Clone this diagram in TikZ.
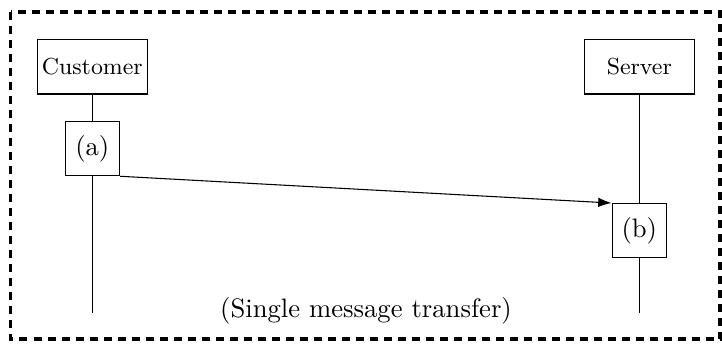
\documentclass[tikz,border=0pt]{standalone}
\usetikzlibrary{arrows.meta}
\begin{document}
\begin{tikzpicture}[x=0.375pt,y=-0.375pt,
  actor/.style={draw,line width=0.4pt,fill=white,minimum width=41.25pt,minimum height=20.6pt,inner sep=0pt,font=\fontsize{8.7}{10}\selectfont},
  act/.style={draw,line width=0.4pt,fill=white,minimum width=20.4pt,minimum height=20.2pt,inner sep=0pt,font=\fontsize{10}{12}\selectfont},
  life/.style={line width=0.4pt},
  msg/.style={line width=0.4pt,-{Latex[length=5pt,width=3.6pt]}},
  frame/.style={line width=1.2pt,dash pattern=on 3pt off 2.25pt}]
\useasboundingbox (0,0) rectangle (722,344);
\coordinate (fa) at (10.5,12);
\coordinate (fb) at (720,339);
\draw[frame] (fa) rectangle (fb);
\node[actor] (cust) at (92.3,66.5) {Customer};
\node[actor] (serv) at (639.3,66.5) {Server};
\coordinate (cend) at (92.3,312.5);
\coordinate (send) at (639.3,312.5);
\draw[life] (cust.south) -- (cend);
\draw[life] (serv.south) -- (send);
\node[act] (a) at (92.3,148.8) {(a)};
\node[act] (b) at (639.3,230.5) {(b)};
\draw[msg] (a.south east) -- (b.north west);
\node[font=\fontsize{10}{12}\selectfont] (lbl) at (366,311) {(Single message transfer)};
\end{tikzpicture}
\end{document}
